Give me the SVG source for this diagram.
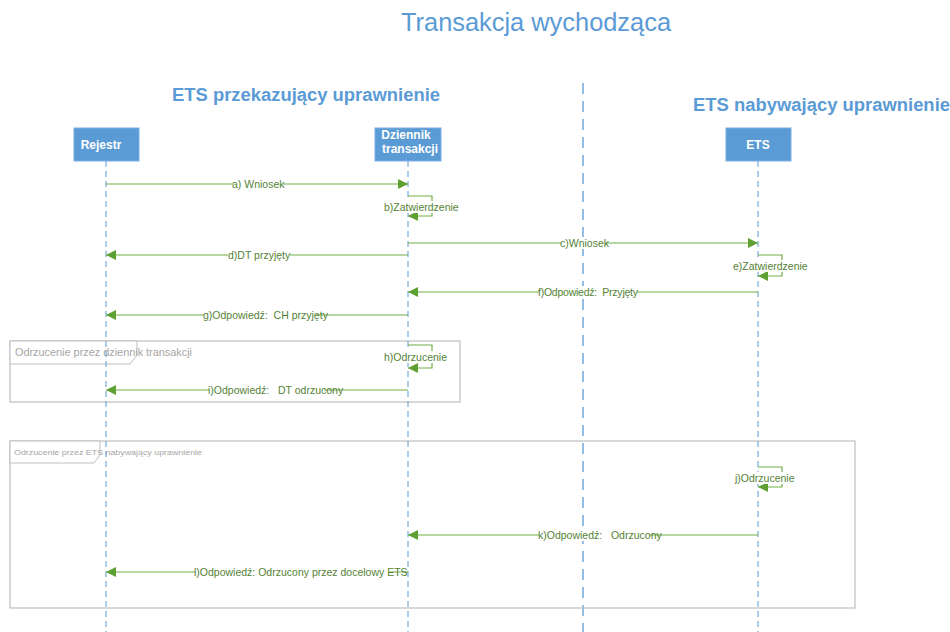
<svg xmlns="http://www.w3.org/2000/svg" width="950" height="632" viewBox="0 0 950 632">
<defs>
<style>
.lbl{font-family:"Liberation Sans",Arial,sans-serif;font-size:10.5px;fill:#548235}
.node rect{fill:#5b9bd5;stroke:#7aaee0;stroke-width:1}
.node text{font-family:"Liberation Sans",Arial,sans-serif;font-weight:bold;fill:#fff;font-size:12px;text-anchor:middle}
.life{stroke:#5b9bd5;stroke-width:1;stroke-dasharray:6 4}
.msg{stroke:#70ad47;stroke-width:1.2;fill:none}
.bg{fill:#fff}
.frame{fill:none;stroke:#bfbfbf;stroke-width:1.2}
.ftab{fill:#fff;stroke:#bfbfbf;stroke-width:1}
.ftxt{font-family:"Liberation Sans",Arial,sans-serif;fill:#a6a6a6}
.head{font-family:"Liberation Sans",Arial,sans-serif;font-weight:bold;fill:#5b9bd5;font-size:18px}
</style>
<marker id="arr" viewBox="0 0 10 10" refX="10" refY="5" markerWidth="10" markerHeight="10" markerUnits="userSpaceOnUse" orient="auto">
<path d="M0,0 L10,5 L0,10 z" fill="#5fa033"/>
</marker>
</defs>
<rect width="950" height="632" fill="#fff"/>
<text x="536" y="31" text-anchor="middle" font-family="Liberation Sans,Arial,sans-serif" font-size="25" fill="#5b9bd5" textLength="270" lengthAdjust="spacingAndGlyphs">Transakcja wychodząca</text>
<text class="head" x="172" y="101" textLength="268" lengthAdjust="spacingAndGlyphs">ETS przekazujący uprawnienie</text>
<text class="head" x="693" y="111" textLength="257" lengthAdjust="spacingAndGlyphs">ETS nabywający uprawnienie</text>
<line x1="583" y1="83" x2="583" y2="632" stroke="#5b9bd5" stroke-width="1.3" stroke-dasharray="11 7"/>

<g id="frame1">
<rect class="frame" x="10" y="341" width="450" height="61"/>
<polygon class="ftab" points="10,341 137,341 137,355 130,364 10,364"/>
<text class="ftxt" x="15" y="356" font-size="10" textLength="177" lengthAdjust="spacingAndGlyphs">Odrzucenie przez dziennik transakcji</text>
</g>
<g id="frame2">
<rect class="frame" x="10" y="441" width="845" height="167"/>
<polygon class="ftab" points="10,441 100,441 100,455 94,463 10,463"/>
<text class="ftxt" x="14" y="455" font-size="8" textLength="188" lengthAdjust="spacingAndGlyphs">Odrzucenie przez ETS nabywający uprawnienie</text>
</g>

<g id="lifelines">
<line class="life" x1="106" y1="161" x2="106" y2="632"/>
<line class="life" x1="408" y1="161" x2="408" y2="632"/>
<line class="life" x1="758" y1="161" x2="758" y2="632"/>
</g>

<g id="rejestr" class="node"><rect x="74" y="128" width="65" height="33"/><text x="101" y="149">Rejestr</text></g>
<g id="dziennik" class="node"><rect x="375" y="128" width="66" height="33"/><text x="406" y="139">Dziennik</text><text x="410" y="153">transakcji</text></g>
<g id="ets" class="node"><rect x="726" y="128" width="65" height="33"/><text x="758" y="149">ETS</text></g>

<g id="connectors">
<line class="msg" x1="106" y1="184" x2="408" y2="184" marker-end="url(#arr)"/>
<rect class="bg" x="233" y="178" width="50" height="12"/>
<text class="lbl" x="232" y="188">a) Wniosek</text>
<polyline class="msg" points="408,196 432,196 432,216 408,216" marker-end="url(#arr)"/>
<rect class="bg" x="385" y="201" width="72" height="12"/>
<text class="lbl" x="384" y="211">b)Zatwierdzenie</text>
<line class="msg" x1="408" y1="243" x2="758" y2="243" marker-end="url(#arr)"/>
<rect class="bg" x="561" y="237" width="44" height="12"/>
<text class="lbl" x="560" y="247">c)Wniosek</text>
<line class="msg" x1="408" y1="255" x2="106" y2="255" marker-end="url(#arr)"/>
<rect class="bg" x="228" y="249" width="62" height="12"/>
<text class="lbl" x="228" y="259">d)DT przyjęty</text>
<polyline class="msg" points="758,255 782,255 782,276 758,276" marker-end="url(#arr)"/>
<rect class="bg" x="734" y="260" width="72" height="12"/>
<text class="lbl" x="733" y="270">e)Zatwierdzenie</text>
<line class="msg" x1="758" y1="292" x2="408" y2="292" marker-end="url(#arr)"/>
<rect class="bg" x="539" y="286" width="98" height="12"/>
<text class="lbl" x="538" y="296" xml:space="preserve" textLength="100" lengthAdjust="spacing">f)Odpowiedź:  Przyjęty</text>
<line class="msg" x1="408" y1="315" x2="106" y2="315" marker-end="url(#arr)"/>
<rect class="bg" x="204" y="309" width="112" height="12"/>
<text class="lbl" x="203" y="319" xml:space="preserve">g)Odpowiedź:  CH przyjęty</text>
<polyline class="msg" points="408,345 432,345 432,368 408,368" marker-end="url(#arr)"/>
<rect class="bg" x="385" y="351" width="60" height="12"/>
<text class="lbl" x="384" y="361">h)Odrzucenie</text>
<line class="msg" x1="408" y1="390" x2="106" y2="390" marker-end="url(#arr)"/>
<rect class="bg" x="209" y="384" width="115" height="12"/>
<text class="lbl" x="208" y="394" xml:space="preserve">i)Odpowiedź:   DT odrzucony</text>
<polyline class="msg" points="758,467 782,467 782,487 758,487" marker-end="url(#arr)"/>
<rect class="bg" x="736" y="472" width="56" height="12"/>
<text class="lbl" x="735" y="482">j)Odrzucenie</text>
<line class="msg" x1="758" y1="535" x2="408" y2="535" marker-end="url(#arr)"/>
<rect class="bg" x="539" y="529" width="110" height="12"/>
<text class="lbl" x="538" y="539" xml:space="preserve">k)Odpowiedź:   Odrzucony</text>
<line class="msg" x1="408" y1="572" x2="106" y2="572" marker-end="url(#arr)"/>
<rect class="bg" x="195" y="566" width="195" height="12"/>
<text class="lbl" x="194" y="576">l)Odpowiedź: Odrzucony przez docelowy ETS</text>
</g>
</svg>
